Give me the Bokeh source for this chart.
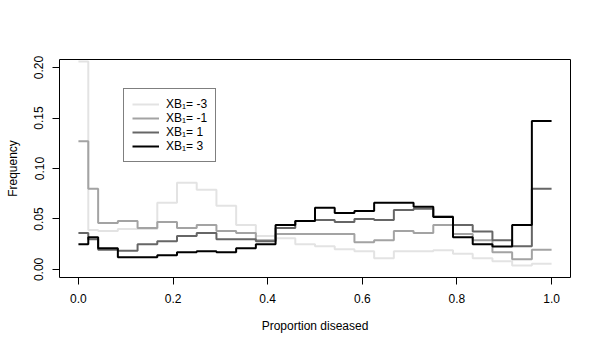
from bokeh.plotting import figure
from bokeh.models import Range1d, FixedTicker, NumeralTickFormatter, Legend, LegendItem
from bokeh.embed import file_html
from bokeh.resources import INLINE

# Bin boundaries of the proportion-diseased histogram (first bin is half width)
bin_edges = [0.0, 1 / 48] + [k / 24 for k in range(1, 25)]

series_labels = ["XB\u2081= -3", "XB\u2081= -1", "XB\u2081= 1", "XB\u2081= 3"]
series_colors = ["#e3e3e3", "#a3a3a3", "#666666", "#000000"]

freq_m3 = [0.206, 0.039, 0.038, 0.040, 0.040, 0.066, 0.086, 0.079, 0.063, 0.044,
           0.033, 0.031, 0.025, 0.023, 0.020, 0.018, 0.011, 0.018, 0.018, 0.019,
           0.0155, 0.011, 0.008, 0.004, 0.0056]
freq_m1 = [0.127, 0.080, 0.046, 0.048, 0.041, 0.047, 0.041, 0.044, 0.038, 0.036,
           0.029, 0.035, 0.035, 0.035, 0.035, 0.027, 0.029, 0.038, 0.036, 0.044,
           0.035, 0.029, 0.017, 0.010, 0.0195]
freq_p1 = [0.036, 0.030, 0.0195, 0.0185, 0.025, 0.028, 0.033, 0.036, 0.030, 0.030,
           0.028, 0.041, 0.048, 0.049, 0.047, 0.050, 0.049, 0.059, 0.060, 0.0525,
           0.044, 0.0376, 0.029, 0.023, 0.080]
freq_p3 = [0.025, 0.032, 0.021, 0.012, 0.012, 0.014, 0.017, 0.018, 0.017, 0.021,
           0.025, 0.044, 0.048, 0.061, 0.056, 0.058, 0.066, 0.066, 0.062, 0.052,
           0.032, 0.025, 0.0227, 0.044, 0.147]

x_ticks = [0.0, 0.2, 0.4, 0.6, 0.8, 1.0]
y_ticks = [0.0, 0.05, 0.10, 0.15, 0.20]

FONT = "Liberation Sans"

p = figure(width=600, height=350, output_backend="svg", toolbar_location=None,
           x_range=Range1d(-0.04, 1.04), y_range=Range1d(-0.008, 0.208),
           min_border_left=59, min_border_right=30, min_border_top=59, min_border_bottom=73)
p.background_fill_color = "white"
p.border_fill_color = "white"
p.outline_line_color = "black"
p.outline_line_width = 1
p.xgrid.visible = False
p.ygrid.visible = False

items = []
for lab, col, vals in zip(series_labels, series_colors, [freq_m3, freq_m1, freq_p1, freq_p3]):
    r = p.step(x=bin_edges, y=vals + [vals[-1]], mode="after", line_color=col, line_width=2)
    items.append(LegendItem(label=lab, renderers=[r]))

for ax, ticks, fmt, title in [(p.xaxis[0], x_ticks, "0.0", "Proportion diseased"),
                              (p.yaxis[0], y_ticks, "0.00", "Frequency")]:
    ax.ticker = FixedTicker(ticks=ticks)
    ax.formatter = NumeralTickFormatter(format=fmt)
    ax.minor_tick_line_color = None
    ax.axis_line_color = None
    ax.major_tick_line_color = "black"
    ax.major_tick_in = 0
    ax.major_tick_out = 7
    ax.major_label_standoff = 9
    ax.major_label_text_font = FONT
    ax.major_label_text_font_size = "12px"
    ax.major_label_text_color = "black"
    ax.axis_label = title
    ax.axis_label_text_font = FONT
    ax.axis_label_text_font_size = "12px"
    ax.axis_label_text_font_style = "normal"
    ax.axis_label_text_color = "black"

p.xaxis[0].axis_label_standoff = 13
p.yaxis[0].axis_label_standoff = 12
p.yaxis[0].major_label_orientation = "vertical"

legend = Legend(items=items, location=(64, 115))
legend.label_text_font = FONT
legend.label_text_font_size = "12px"
legend.label_text_color = "black"
legend.label_height = 12
legend.glyph_height = 12
legend.glyph_width = 27
legend.label_standoff = 7
legend.spacing = 0
legend.padding = 8
legend.margin = 0
legend.border_line_color = "black"
legend.border_line_width = 1
legend.background_fill_color = "white"
legend.background_fill_alpha = 1.0
p.add_layout(legend, "center")

open("out.html", "w").write(file_html(p, INLINE))
